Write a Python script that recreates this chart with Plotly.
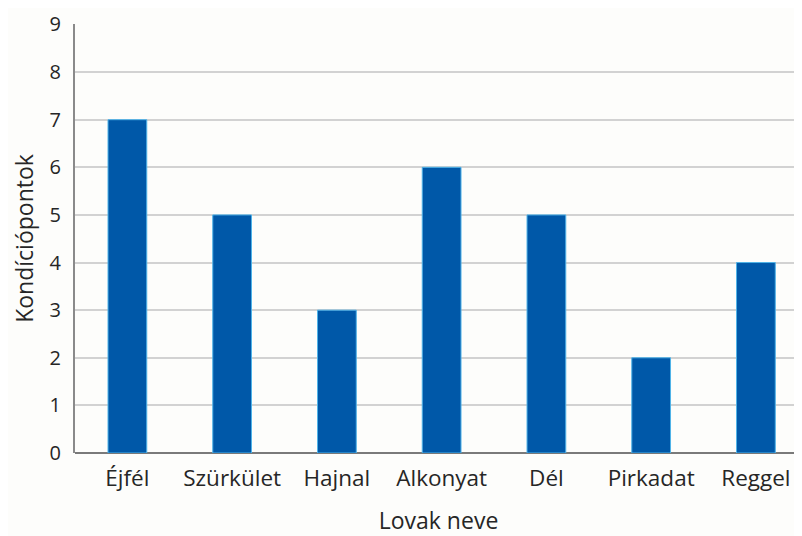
import plotly.graph_objects as go

categories = ["Éjfél", "Szürkület", "Hajnal", "Alkonyat", "Dél", "Pirkadat", "Reggel"]
values = [7, 5, 3, 6, 5, 2, 4]
y_ticks = list(range(0, 10))

FONT = "Open Sans"
TXT = "#262626"
fig = go.Figure()
fig.add_trace(go.Bar(
    x=categories, y=values,
    marker=dict(color="#0058A8", line=dict(color="#4FB3E8", width=1)),
))
# page body adds an 8px offset, so the figure is sized to fill the remaining window
fig.update_layout(
    width=794, height=528,
    margin=dict(l=67, r=0, t=16, b=83),
    paper_bgcolor="#FDFDFB", plot_bgcolor="#FDFDFB",
    bargap=0.63,
    showlegend=False,
    font=dict(family=FONT, color=TXT, size=23),
)
fig.update_xaxes(
    automargin=False,
    range=[-0.5, 6.44],
    showgrid=False, showline=False, zeroline=False,
    ticks="", ticklabelstandoff=9,
    tickfont=dict(size=22.5, family=FONT, color=TXT),
    title=dict(text="Lovak neve", font=dict(size=23, family=FONT, color=TXT), standoff=29),
)
fig.update_yaxes(
    automargin=False,
    range=[0, 9.01], tickvals=y_ticks,
    ticklabeloverflow="allow",
    showgrid=True, gridcolor="#D2D2D2", gridwidth=2,
    zeroline=True, zerolinecolor="#7A7A7A", zerolinewidth=2,
    showline=True, linecolor="#8A8A8A", linewidth=2,
    ticks="", ticklabelstandoff=8,
    tickfont=dict(size=20, family=FONT, color=TXT),
    title=dict(text="Kondíciópontok", font=dict(size=23, family=FONT, color=TXT), standoff=15),
)
fig.write_html("out.html")
